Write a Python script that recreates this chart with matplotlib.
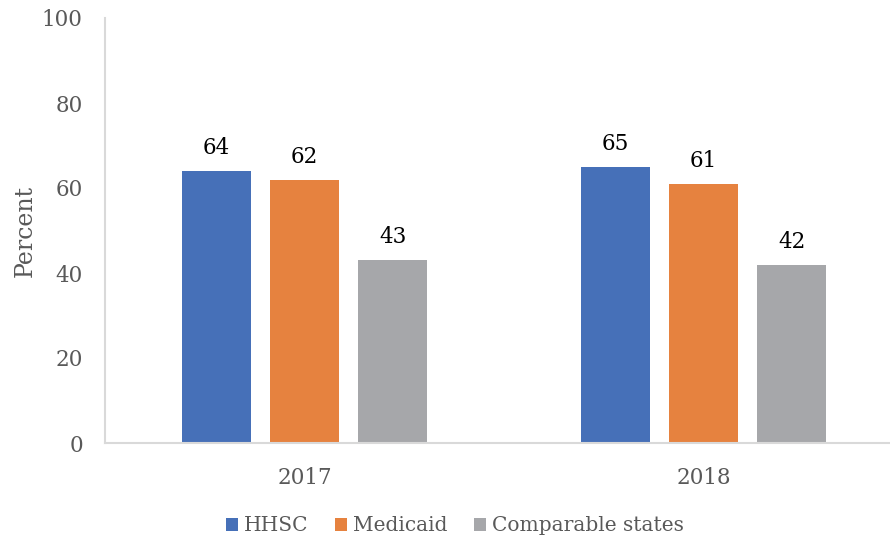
import matplotlib
matplotlib.use('Agg')
import matplotlib.pyplot as plt
import numpy as np

years = ['2017', '2018']
series_names = ['HHSC', 'Medicaid', 'Comparable states']
hhsc = [64, 65]
medicaid = [62, 61]
comparable = [43, 42]
colors = ['#4670B8', '#E6823F', '#A6A7AA']

plt.rcParams['font.family'] = ['DejaVu Serif']

fig = plt.figure(figsize=(8.9, 5.42), dpi=100)
ax = fig.add_axes([105/890, 1 - 443/542, 785/890, 425/542])

x = np.arange(len(years))
width = 0.173
step = 0.221
for i, (vals, name) in enumerate(zip([hhsc, medicaid, comparable], series_names)):
    pos = x + (i - 1) * step
    bars = ax.bar(pos, vals, width, color=colors[i], label=name)
    for b, v in zip(bars, vals):
        ax.text(b.get_x() + b.get_width() / 2, v + 2.8, str(v), ha='center',
                va='bottom', fontsize=15.5, color='black')

ax.set_xlim(-0.5, 1.467)
ax.set_ylim(0, 100)
ax.set_yticks(range(0, 101, 20))
ax.set_xticks(x)
ax.set_xticklabels(years)
ax.tick_params(axis='both', length=0, labelsize=15.5, colors='#595959')
ax.tick_params(axis='x', pad=17)
ax.tick_params(axis='y', pad=16)
ax.set_ylabel('Percent', fontsize=17, color='#595959', labelpad=4)

for s in ['top', 'right']:
    ax.spines[s].set_visible(False)
ax.spines['left'].set_color('#D9D9D9')
ax.spines['bottom'].set_color('#D9D9D9')
ax.spines['left'].set_linewidth(1.5)
ax.spines['bottom'].set_linewidth(1.5)

leg = ax.legend(loc='center', bbox_to_anchor=((455 - 105) / 785, -0.195),
                ncol=3, frameon=False, fontsize=14.5, handlelength=0.6, handleheight=0.6,
                handletextpad=0.3, columnspacing=1.3)
for t in leg.get_texts():
    t.set_color('#595959')

fig.savefig('out.png', dpi=100)
